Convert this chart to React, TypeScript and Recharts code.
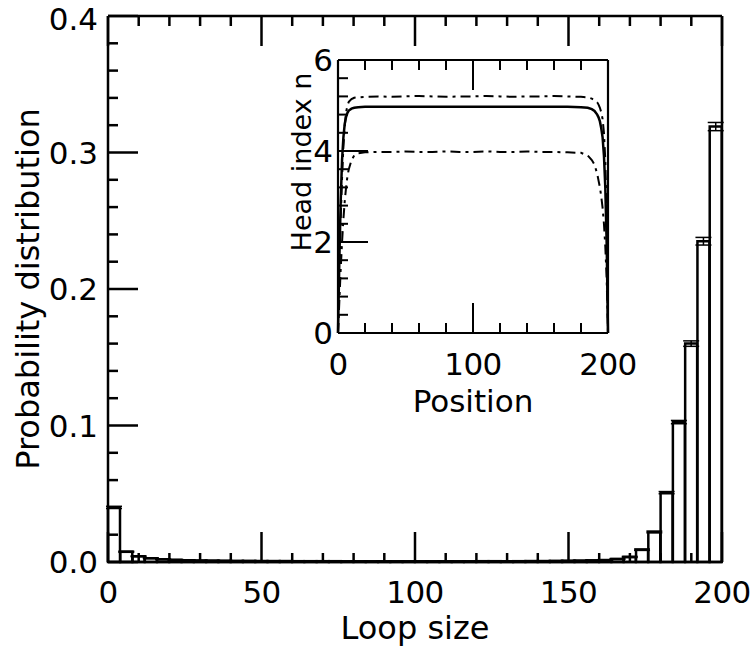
import { ComposedChart, LineChart, Bar, Line, ErrorBar, XAxis, YAxis, Label } from 'recharts'

// histogram of loop sizes (bins of width 4)
const loopSize = [
  2, 6, 10, 14, 18, 22, 26, 30, 34, 38, 42, 46, 50, 54, 58, 62, 66, 70, 74, 78,
  82, 86, 90, 94, 98, 102, 106, 110, 114, 118, 122, 126, 130, 134, 138, 142, 146, 150, 154, 158,
  162, 166, 170, 174, 178, 182, 186, 190, 194, 198,
]
const probability = [
  0.040, 0.0075, 0.0042, 0.0028, 0.0021, 0.0016, 0.0013, 0.0011, 0.0010, 0.0009,
  0.0008, 0.0008, 0.0007, 0.0007, 0.0007, 0.0006, 0.0006, 0.0006, 0.0006, 0.0005,
  0.0005, 0.0005, 0.0005, 0.0005, 0.0005, 0.0005, 0.0005, 0.0005, 0.0005, 0.0005,
  0.0006, 0.0006, 0.0006, 0.0006, 0.0007, 0.0007, 0.0008, 0.0009, 0.0010, 0.0012,
  0.0014, 0.0022, 0.0037, 0.0090, 0.0220, 0.0508, 0.1025, 0.1600, 0.2350, 0.3190,
]
const probabilityErr = [
  0.0008, 0.0004, 0.0003, 0.0003, 0.0002, 0.0002, 0.0002, 0.0002, 0.0002, 0.0002,
  0.0002, 0.0002, 0.0002, 0.0002, 0.0002, 0.0002, 0.0002, 0.0002, 0.0002, 0.0002,
  0.0002, 0.0002, 0.0002, 0.0002, 0.0002, 0.0002, 0.0002, 0.0002, 0.0002, 0.0002,
  0.0002, 0.0002, 0.0002, 0.0002, 0.0002, 0.0002, 0.0002, 0.0002, 0.0002, 0.0002,
  0.0003, 0.0003, 0.0004, 0.0005, 0.0006, 0.0008, 0.0012, 0.0020, 0.0028, 0.0030,
]

const mainXTicks = [0, 10, 20, 30, 40, 50, 60, 70, 80, 90, 100, 110, 120, 130, 140, 150, 160, 170, 180, 190, 200]
const mainYTicks = [0, 0.02, 0.04, 0.06, 0.08, 0.1, 0.12, 0.14, 0.16, 0.18, 0.2, 0.22, 0.24, 0.26, 0.28, 0.3, 0.32, 0.34, 0.36, 0.38, 0.4]

// inset: head index along the chain
const position = [0, 1, 2, 3, 4, 5, 6, 7, 8, 10, 12, 15, 20, 30, 40, 50, 60, 70, 80, 90, 100, 110, 120, 130, 140, 150, 160, 170, 180, 185, 188, 190, 192, 193, 194, 195, 196, 197, 198, 199, 200]
const headSolid = [0, 1.6, 2.9, 3.8, 4.3, 4.6, 4.75, 4.84, 4.89, 4.93, 4.95, 4.96, 4.97, 4.97, 4.97, 4.97, 4.97, 4.97, 4.97, 4.97, 4.97, 4.97, 4.97, 4.97, 4.97, 4.97, 4.97, 4.97, 4.96, 4.95, 4.92, 4.88, 4.8, 4.74, 4.65, 4.5, 4.3, 3.9, 3.2, 2.0, 0]
const headUpper = [0, 1.3, 2.5, 3.4, 4.1, 4.55, 4.85, 5.0, 5.08, 5.14, 5.17, 5.18, 5.19, 5.2, 5.19, 5.2, 5.21, 5.2, 5.19, 5.2, 5.2, 5.21, 5.2, 5.19, 5.2, 5.2, 5.21, 5.2, 5.19, 5.18, 5.15, 5.12, 5.07, 5.02, 4.95, 4.85, 4.7, 4.4, 3.8, 2.6, 0]
const headLower = [0, 0.7, 1.4, 2.0, 2.5, 2.9, 3.2, 3.45, 3.6, 3.8, 3.9, 3.95, 3.97, 3.98, 3.98, 3.99, 3.98, 3.98, 3.99, 3.98, 3.98, 3.99, 3.98, 3.98, 3.99, 3.98, 3.98, 3.97, 3.96, 3.9, 3.8, 3.7, 3.5, 3.35, 3.2, 3.0, 2.75, 2.4, 1.9, 1.2, 0]

const insetXTicks = [0, 20, 40, 60, 80, 100, 120, 140, 160, 180, 200]
const insetYTicks = [0, 0.4, 0.8, 1.2, 1.6, 2, 2.4, 2.8, 3.2, 3.6, 4, 4.4, 4.8, 5.2, 5.6, 6]

const FONT = "'DejaVu Sans', sans-serif"

const histData = loopSize.map((x, i) => ({ x, p: probability[i], err: probabilityErr[i] }))
const headData = position.map((pos, i) => ({ pos, solid: headSolid[i], upper: headUpper[i], lower: headLower[i] }))

type Side = 'bottom' | 'top' | 'left' | 'right'

// inward tick marks, labels only on major ticks
function frameTick(side: Side, isMajor: (v: number) => boolean, majorLen: number, minorLen: number,
  width: number, fmt?: (v: number) => string, gap = 0, fontSize = 31) {
  return (props: any) => {
    const { x, y, payload } = props
    const v = payload.value
    const major = isMajor(v)
    const len = major ? majorLen : minorLen
    const dx = side === 'left' ? len : side === 'right' ? -len : 0
    const dy = side === 'bottom' ? -len : side === 'top' ? len : 0
    let txt = null
    if (fmt && major) {
      if (side === 'bottom') {
        txt = <text x={x} y={y + gap} textAnchor="middle" fontSize={fontSize} letterSpacing={-0.6}
          fontFamily={FONT} fill="#000">{fmt(v)}</text>
      } else if (side === 'left') {
        // keep the topmost label inside the page
        txt = <text x={x - gap} y={Math.max(y + fontSize * 0.36, 30)} textAnchor="end" fontSize={fontSize}
          fontFamily={FONT} fill="#000">{fmt(v)}</text>
      }
    }
    return (
      <g>
        <line x1={x} y1={y} x2={x + dx} y2={y + dy} stroke="#000" strokeWidth={width} />
        {txt}
      </g>
    )
  }
}

const every50 = (v: number) => v % 50 === 0
const everyTenth = (v: number) => Math.abs(v * 10 - Math.round(v * 10)) < 1e-6
const every100 = (v: number) => v % 100 === 0
const everyTwo = (v: number) => Math.abs(v / 2 - Math.round(v / 2)) < 1e-6

const frame = { stroke: '#000', strokeWidth: 2.5 }
const insetFrame = { stroke: '#000', strokeWidth: 2.2 }

export default function App() {
  return (
    <div style={{ position: 'absolute', left: 0, top: 0, width: 750, height: 659, background: '#fff', fontFamily: FONT }}>
      <div style={{ position: 'absolute', left: 0, top: 0 }}>
        <ComposedChart width={750} height={659} data={histData}
          margin={{ top: 15, right: 27, bottom: 96, left: 107 }} barCategoryGap={0} barGap={0}>
          <XAxis xAxisId="b" dataKey="x" type="number" domain={[0, 200]} ticks={mainXTicks} interval={0}
            orientation="bottom" height={1} tickSize={0} tickMargin={0} tickLine={false} axisLine={frame}
            tick={frameTick('bottom', every50, 30, 9, 2.5, v => String(v), 41)}>
            <Label content={({ viewBox }: any) => (
              <text x={viewBox.x + viewBox.width / 2} y={viewBox.y + 77} textAnchor="middle"
                fontSize={32} fontFamily={FONT} fill="#000">Loop size</text>
            )} />
          </XAxis>
          <XAxis xAxisId="t" dataKey="x" type="number" domain={[0, 200]} ticks={mainXTicks} interval={0}
            orientation="top" height={1} tickSize={0} tickMargin={0} tickLine={false} axisLine={frame}
            tick={frameTick('top', every50, 30, 10, 2.5)} />
          <YAxis yAxisId="l" type="number" domain={[0, 0.4]} ticks={mainYTicks} interval={0}
            orientation="left" width={1} tickSize={0} tickMargin={0} tickLine={false} axisLine={frame}
            tick={frameTick('left', everyTenth, 30, 10, 2.5, v => v.toFixed(1), 10)}>
            <Label content={({ viewBox }: any) => {
              const cx = viewBox.x + viewBox.width - 69
              const cy = viewBox.y + viewBox.height / 2
              return (
                <text x={cx} y={cy} transform={`rotate(-90, ${cx}, ${cy})`} textAnchor="middle"
                  fontSize={32} fontFamily={FONT} fill="#000">Probability distribution</text>
              )
            }} />
          </YAxis>
          <YAxis yAxisId="r" type="number" domain={[0, 0.4]} ticks={mainYTicks} interval={0}
            orientation="right" width={1} tickSize={0} tickMargin={0} tickLine={false} axisLine={frame}
            tick={frameTick('right', everyTenth, 30, 10, 2.5)} />
          <Bar xAxisId="b" yAxisId="l" dataKey="p" fill="none" stroke="#000" strokeWidth={2.5} isAnimationActive={false}>
            <ErrorBar dataKey="err" width={8} stroke="#000" strokeWidth={1.5} direction="y" />
          </Bar>
        </ComposedChart>
      </div>
      <div style={{ position: 'absolute', left: 0, top: 0 }}>
        <LineChart width={750} height={659} data={headData}
          margin={{ top: 59, right: 141, bottom: 325, left: 337 }}>
          <XAxis xAxisId="b" dataKey="pos" type="number" domain={[0, 200]} ticks={insetXTicks} interval={0}
            orientation="bottom" height={1} tickSize={0} tickMargin={0} tickLine={false} axisLine={insetFrame}
            tick={frameTick('bottom', every100, 30, 10, 2, v => String(v), 42)}>
            <Label content={({ viewBox }: any) => (
              <text x={viewBox.x + viewBox.width / 2} y={viewBox.y + 79} textAnchor="middle"
                fontSize={31} fontFamily={FONT} fill="#000">Position</text>
            )} />
          </XAxis>
          <XAxis xAxisId="t" dataKey="pos" type="number" domain={[0, 200]} ticks={insetXTicks} interval={0}
            orientation="top" height={1} tickSize={0} tickMargin={0} tickLine={false} axisLine={insetFrame}
            tick={frameTick('top', every100, 30, 10, 2)} />
          <YAxis yAxisId="l" type="number" domain={[0, 6]} ticks={insetYTicks} interval={0}
            orientation="left" width={1} tickSize={0} tickMargin={0} tickLine={false} axisLine={insetFrame}
            tick={frameTick('left', everyTwo, 30, 10, 2, v => String(v), 5)}>
            <Label content={({ viewBox }: any) => {
              const cx = viewBox.x + viewBox.width - 27
              const cy = viewBox.y + 102
              return (
                <text x={cx} y={cy} transform={`rotate(-90, ${cx}, ${cy})`} textAnchor="middle"
                  fontSize={27} fontFamily={FONT} fill="#000">Head index n</text>
              )
            }} />
          </YAxis>
          <YAxis yAxisId="r" type="number" domain={[0, 6]} ticks={insetYTicks} interval={0}
            orientation="right" width={1} tickSize={0} tickMargin={0} tickLine={false} axisLine={insetFrame}
            tick={frameTick('right', everyTwo, 30, 10, 2)} />
          <Line xAxisId="b" yAxisId="l" dataKey="upper" type="linear" dot={false} stroke="#000" strokeWidth={2}
            strokeDasharray="10 5 3 5" isAnimationActive={false} />
          <Line xAxisId="b" yAxisId="l" dataKey="solid" type="linear" dot={false} stroke="#000" strokeWidth={2.5}
            isAnimationActive={false} />
          <Line xAxisId="b" yAxisId="l" dataKey="lower" type="linear" dot={false} stroke="#000" strokeWidth={2}
            strokeDasharray="10 5 3 5" isAnimationActive={false} />
        </LineChart>
      </div>
    </div>
  )
}
